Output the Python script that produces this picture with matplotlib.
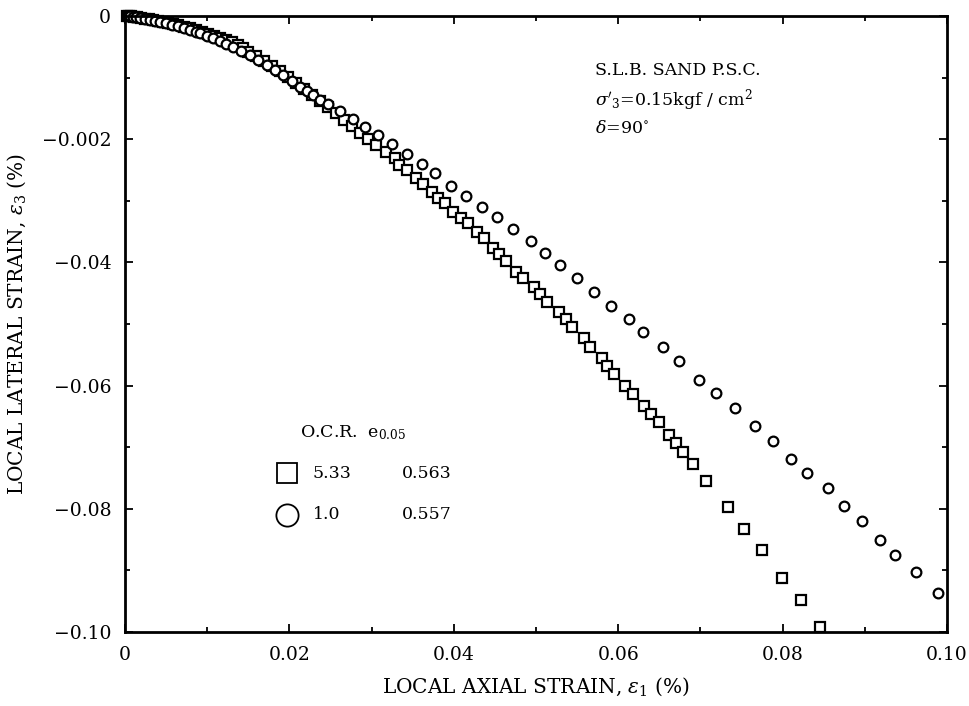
import numpy as np
import matplotlib
matplotlib.use("Agg")
import matplotlib.pyplot as plt
from matplotlib.ticker import MultipleLocator, FixedLocator, FixedFormatter

plt.rcParams["font.family"] = ["DejaVu Serif"]
plt.rcParams["mathtext.fontset"] = "dejavuserif"

# O.C.R. = 1.0, e0.05 = 0.557 (circles)
ocr10_axial = [0.0004, 0.0006, 0.0010, 0.0013, 0.0018, 0.0024, 0.0030, 0.0036, 0.0043, 0.0050,
               0.0057, 0.0065, 0.0072, 0.0079, 0.0086, 0.0091, 0.0100, 0.0107, 0.0116, 0.0123,
               0.0131, 0.0141, 0.0152, 0.0162, 0.0173, 0.0182, 0.0192, 0.0203, 0.0213, 0.0221,
               0.0229, 0.0237, 0.0247, 0.0262, 0.0277, 0.0292, 0.0308, 0.0325, 0.0343, 0.0361,
               0.0377, 0.0397, 0.0415, 0.0434, 0.0453, 0.0472, 0.0494, 0.0511, 0.0529, 0.0550,
               0.0571, 0.0591, 0.0613, 0.0630, 0.0655, 0.0674, 0.0698, 0.0719, 0.0742, 0.0766,
               0.0788, 0.0810, 0.0830, 0.0855, 0.0875, 0.0897, 0.0918, 0.0937, 0.0962, 0.0989]
ocr10_lateral = [0.0, 0.0, -0.0002, -0.0002, -0.0003, -0.0005, -0.0006, -0.0008, -0.0010, -0.0011,
                 -0.0015, -0.0016, -0.0019, -0.0023, -0.0026, -0.0028, -0.0032, -0.0036, -0.0041, -0.0045,
                 -0.0050, -0.0057, -0.0063, -0.0071, -0.0080, -0.0088, -0.0096, -0.0106, -0.0115, -0.0122,
                 -0.0128, -0.0136, -0.0143, -0.0154, -0.0167, -0.0180, -0.0193, -0.0208, -0.0224, -0.0240,
                 -0.0255, -0.0276, -0.0292, -0.0310, -0.0326, -0.0346, -0.0365, -0.0385, -0.0404, -0.0425,
                 -0.0448, -0.0471, -0.0492, -0.0513, -0.0537, -0.0560, -0.0591, -0.0612, -0.0636, -0.0666,
                 -0.0690, -0.0719, -0.0742, -0.0766, -0.0795, -0.0820, -0.0851, -0.0875, -0.0903, -0.0937]

# O.C.R. = 5.33, e0.05 = 0.563 (squares)
ocr533_axial = [0.0002, 0.0005, 0.0007, 0.0011, 0.0015, 0.0019, 0.0024, 0.0029, 0.0034, 0.0040,
                0.0046, 0.0052, 0.0058, 0.0064, 0.0072, 0.0079, 0.0086, 0.0094, 0.0101, 0.0108,
                0.0116, 0.0123, 0.0130, 0.0137, 0.0144, 0.0150, 0.0159, 0.0169, 0.0179, 0.0189,
                0.0198, 0.0208, 0.0218, 0.0228, 0.0237, 0.0247, 0.0257, 0.0266, 0.0276, 0.0286,
                0.0296, 0.0305, 0.0318, 0.0328, 0.0333, 0.0343, 0.0354, 0.0363, 0.0373, 0.0381,
                0.0389, 0.0399, 0.0409, 0.0417, 0.0428, 0.0437, 0.0448, 0.0455, 0.0464, 0.0476,
                0.0484, 0.0498, 0.0505, 0.0513, 0.0528, 0.0537, 0.0544, 0.0558, 0.0566, 0.0580,
                0.0586, 0.0595, 0.0608, 0.0618, 0.0631, 0.0640, 0.0650, 0.0662, 0.0670, 0.0679,
                0.0691, 0.0707, 0.0734, 0.0753, 0.0775, 0.0799, 0.0822, 0.0846]
ocr533_lateral = [0.0, 0.0, 0.0, -0.0002, -0.0002, -0.0003, -0.0005, -0.0005, -0.0006, -0.0008,
                  -0.0010, -0.0011, -0.0013, -0.0015, -0.0018, -0.0019, -0.0023, -0.0026, -0.0029, -0.0032,
                  -0.0036, -0.0039, -0.0042, -0.0047, -0.0052, -0.0058, -0.0065, -0.0073, -0.0081, -0.0089,
                  -0.0099, -0.0109, -0.0119, -0.0128, -0.0138, -0.0148, -0.0157, -0.0169, -0.0179, -0.0190,
                  -0.0200, -0.0209, -0.0221, -0.0231, -0.0242, -0.0250, -0.0263, -0.0273, -0.0286, -0.0295,
                  -0.0304, -0.0318, -0.0328, -0.0336, -0.0351, -0.0360, -0.0377, -0.0386, -0.0398, -0.0416,
                  -0.0425, -0.0440, -0.0451, -0.0464, -0.0481, -0.0492, -0.0505, -0.0523, -0.0537, -0.0555,
                  -0.0568, -0.0581, -0.0601, -0.0614, -0.0633, -0.0646, -0.0659, -0.0680, -0.0693, -0.0708,
                  -0.0727, -0.0755, -0.0797, -0.0833, -0.0867, -0.0912, -0.0948, -0.0992]

x_ticks = [0.0, 0.02, 0.04, 0.06, 0.08, 0.10]
x_tick_labels = ["0", "0.02", "0.04", "0.06", "0.08", "0.10"]
y_ticks = [0.0, -0.02, -0.04, -0.06, -0.08, -0.10]
y_tick_labels = ["0", "\u22120.002", "\u22120.04", "\u22120.06", "\u22120.08", "\u22120.10"]

legend_ocr = ["5.33", "1.0"]
legend_e = ["0.563", "0.557"]
legend_markers = ["s", "o"]

fig = plt.figure(figsize=(9.7, 7.06), dpi=100)
ax = fig.add_axes([0.1289, 0.1048, 0.8474, 0.8725])

ax.plot(ocr533_axial, ocr533_lateral, linestyle="none", marker="s", markersize=6.5,
        markerfacecolor="white", markeredgecolor="black", markeredgewidth=1.6, clip_on=False)
ax.plot(ocr10_axial, ocr10_lateral, linestyle="none", marker="o", markersize=7.0,
        markerfacecolor="white", markeredgecolor="black", markeredgewidth=1.6, clip_on=False)

ax.set_xlim(0, 0.10)
ax.set_ylim(-0.10, 0)

ax.xaxis.set_major_locator(FixedLocator(x_ticks))
ax.xaxis.set_major_formatter(FixedFormatter(x_tick_labels))
ax.xaxis.set_minor_locator(MultipleLocator(0.01))
ax.yaxis.set_major_locator(FixedLocator(y_ticks))
ax.yaxis.set_major_formatter(FixedFormatter(y_tick_labels))
ax.yaxis.set_minor_locator(MultipleLocator(0.01))

ax.tick_params(which="both", direction="in", top=True, right=True, labelsize=13.5, width=1.3)
ax.tick_params(which="major", length=6, pad=10)
ax.tick_params(which="minor", length=3.5)
for side in ax.spines.values():
    side.set_linewidth(2.0)

ax.set_xlabel(r"LOCAL AXIAL STRAIN, $\varepsilon_1$ (%)", fontsize=14.5, labelpad=8)
ax.set_ylabel(r"LOCAL LATERAL STRAIN, $\varepsilon_3$ (%)", fontsize=14.5, labelpad=10)

# test conditions, upper right
ax.text(0.572, 0.912, "S.L.B. SAND P.S.C.", transform=ax.transAxes, fontsize=12.5, va="center")
ax.text(0.572, 0.864, r"$\sigma'_3$=0.15kgf / cm$^2$", transform=ax.transAxes, fontsize=12.5, va="center")
ax.text(0.572, 0.818, r"$\delta$=90$^{\circ}$", transform=ax.transAxes, fontsize=12.5, va="center")

# hand-placed key
ax.text(0.213, 0.323, r"O.C.R.  e$_{0.05}$", transform=ax.transAxes, fontsize=12.5, va="center")
key_y = [0.258, 0.190]
for ky, mk, ocr, e in zip(key_y, legend_markers, legend_ocr, legend_e):
    ax.plot([0.197], [ky], marker=mk, markersize=16 if mk == "o" else 15, markerfacecolor="white",
            markeredgecolor="black", markeredgewidth=1.3, transform=ax.transAxes, clip_on=False)
    ax.text(0.228, ky, ocr, transform=ax.transAxes, fontsize=12.5, va="center")
    ax.text(0.337, ky, e, transform=ax.transAxes, fontsize=12.5, va="center")

fig.savefig("out.png", dpi=100)
